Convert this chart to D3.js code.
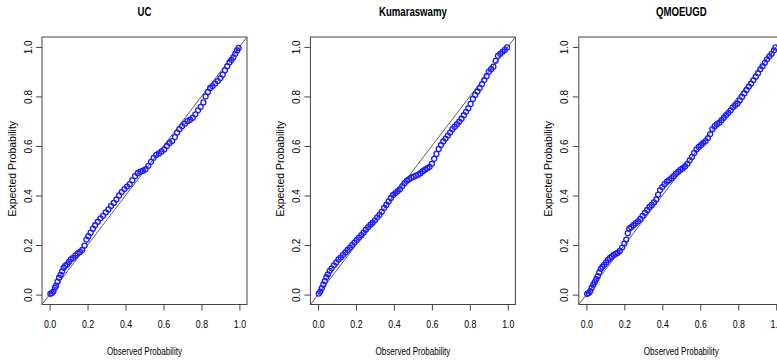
<!DOCTYPE html>
<html>
<head>
<meta charset="utf-8">
<script src="https://cdn.jsdelivr.net/npm/d3@7"></script>
<style>
  body { margin: 0; background: #fff; }
  svg { display: block; }
  text { font-family: "Liberation Sans", Arial, sans-serif; fill: #000; }
</style>
</head>
<body>
<svg id="chart" width="777" height="360"></svg>
<script>
// chart values
var titles = ["UC", "Kumaraswamy", "QMOEUGD"];
var ticks = [0, 0.2, 0.4, 0.6, 0.8, 1.0];
var tickLabels = ["0.0", "0.2", "0.4", "0.6", "0.8", "1.0"];

var ucObs = [0.004,0.012,0.02,0.028,0.034,0.042,0.05,0.058,0.066,0.074,0.082,0.092,0.102,0.112,0.124,0.136,0.148,0.16,0.172,0.184,0.194,0.204,0.216,0.228,0.24,0.254,0.268,0.282,0.296,0.31,0.324,0.338,0.352,0.366,0.38,0.394,0.408,0.422,0.436,0.45,0.464,0.478,0.492,0.506,0.52,0.534,0.548,0.562,0.576,0.59,0.604,0.618,0.632,0.646,0.66,0.672,0.684,0.698,0.712,0.726,0.74,0.754,0.768,0.782,0.796,0.81,0.822,0.834,0.846,0.858,0.872,0.886,0.9,0.912,0.924,0.936,0.948,0.958,0.968,0.978,0.988,0.996];
var ucExp = [0.003,0.006,0.012,0.028,0.036,0.052,0.068,0.08,0.094,0.108,0.116,0.122,0.132,0.142,0.148,0.158,0.166,0.172,0.18,0.198,0.222,0.236,0.25,0.266,0.28,0.294,0.308,0.318,0.332,0.344,0.358,0.37,0.384,0.4,0.414,0.426,0.436,0.446,0.462,0.478,0.49,0.496,0.5,0.506,0.52,0.536,0.552,0.564,0.57,0.578,0.586,0.6,0.612,0.62,0.636,0.654,0.668,0.68,0.69,0.7,0.706,0.714,0.728,0.744,0.758,0.776,0.8,0.818,0.834,0.842,0.852,0.862,0.874,0.888,0.906,0.922,0.938,0.948,0.958,0.972,0.986,0.996];

var kumObs = [0.004,0.012,0.02,0.028,0.036,0.044,0.052,0.062,0.072,0.084,0.096,0.108,0.12,0.132,0.144,0.156,0.168,0.18,0.192,0.204,0.216,0.228,0.24,0.252,0.264,0.276,0.288,0.3,0.312,0.324,0.336,0.348,0.36,0.372,0.384,0.396,0.408,0.42,0.432,0.444,0.456,0.468,0.48,0.492,0.504,0.516,0.528,0.54,0.552,0.564,0.576,0.588,0.6,0.612,0.624,0.636,0.648,0.66,0.672,0.684,0.696,0.708,0.72,0.732,0.744,0.756,0.768,0.78,0.792,0.804,0.816,0.828,0.84,0.852,0.864,0.876,0.888,0.9,0.912,0.924,0.936,0.948,0.96,0.972,0.984,0.996];
var kumExp = [0.004,0.012,0.026,0.04,0.054,0.07,0.082,0.096,0.106,0.118,0.13,0.142,0.15,0.16,0.17,0.18,0.19,0.2,0.21,0.22,0.23,0.24,0.25,0.262,0.272,0.282,0.29,0.3,0.312,0.322,0.334,0.35,0.362,0.376,0.39,0.402,0.41,0.418,0.426,0.438,0.45,0.46,0.466,0.472,0.476,0.48,0.484,0.49,0.498,0.504,0.51,0.516,0.528,0.548,0.568,0.588,0.604,0.618,0.63,0.642,0.654,0.668,0.678,0.688,0.698,0.71,0.724,0.738,0.752,0.77,0.79,0.806,0.82,0.834,0.85,0.866,0.882,0.9,0.91,0.92,0.944,0.964,0.972,0.98,0.988,0.998];

var qmoObs = [0.004,0.012,0.02,0.028,0.036,0.044,0.052,0.06,0.068,0.076,0.084,0.094,0.104,0.114,0.124,0.134,0.144,0.154,0.164,0.176,0.188,0.2,0.21,0.218,0.226,0.236,0.248,0.26,0.272,0.284,0.296,0.308,0.32,0.332,0.344,0.356,0.368,0.378,0.388,0.4,0.412,0.424,0.436,0.448,0.46,0.472,0.484,0.496,0.508,0.52,0.532,0.544,0.556,0.568,0.58,0.592,0.604,0.616,0.628,0.64,0.652,0.664,0.676,0.688,0.7,0.712,0.724,0.736,0.748,0.76,0.772,0.784,0.796,0.808,0.82,0.832,0.844,0.856,0.868,0.88,0.892,0.904,0.916,0.928,0.94,0.952,0.964,0.976,0.988,0.996];
var qmoExp = [0.003,0.006,0.014,0.028,0.04,0.05,0.062,0.074,0.09,0.104,0.112,0.12,0.13,0.14,0.148,0.154,0.16,0.164,0.168,0.176,0.19,0.206,0.222,0.248,0.266,0.272,0.28,0.288,0.296,0.306,0.318,0.33,0.342,0.354,0.362,0.372,0.384,0.404,0.422,0.434,0.446,0.456,0.462,0.47,0.478,0.488,0.496,0.504,0.51,0.518,0.528,0.542,0.556,0.572,0.586,0.596,0.604,0.612,0.62,0.632,0.648,0.668,0.68,0.688,0.694,0.704,0.714,0.724,0.734,0.744,0.756,0.764,0.772,0.784,0.798,0.812,0.826,0.84,0.852,0.866,0.88,0.894,0.91,0.922,0.936,0.95,0.962,0.972,0.986,0.998];

var panels = [
  { title: titles[0], obs: ucObs, exp: ucExp },
  { title: titles[1], obs: kumObs, exp: kumExp },
  { title: titles[2], obs: qmoObs, exp: qmoExp }
];

// layout of one panel (R style: axes pad the data range by 4%)
var panelStep = 268.4;
var plotLeft = 42, plotRight = 247, plotTop = 37, plotBottom = 304.5;
var narrow = 0.8; // the x-side texts use a condensed face in the original

var svg = d3.select("#chart");

panels.forEach(function(p, i) {
  var g = svg.append("g")
    .attr("transform", "translate(" + (i * panelStep) + ",0)");

  var x = d3.scaleLinear()
    .domain([-0.04, 1.04])
    .range([plotLeft, plotRight]);
  var y = d3.scaleLinear()
    .domain([-0.04, 1.04])
    .range([plotBottom, plotTop]);

  var clipId = "clip" + i;
  g.append("clipPath").attr("id", clipId)
    .append("rect")
    .attr("x", plotLeft).attr("y", plotTop)
    .attr("width", plotRight - plotLeft).attr("height", plotBottom - plotTop);

  // reference diagonal
  g.append("line")
    .attr("clip-path", "url(#" + clipId + ")")
    .attr("x1", x(-0.04)).attr("y1", y(-0.04))
    .attr("x2", x(1.04)).attr("y2", y(1.04))
    .attr("stroke", "#333")
    .attr("stroke-width", 0.8);

  // the points
  g.append("g")
    .selectAll("circle")
    .data(p.obs)
    .enter().append("circle")
    .attr("cx", function(d) { return x(d); })
    .attr("cy", function(d, k) { return y(p.exp[k]); })
    .attr("r", 2.5)
    .attr("fill", "none")
    .attr("stroke", "#1a1aff")
    .attr("stroke-width", 1.3);

  // box
  g.append("rect")
    .attr("x", plotLeft).attr("y", plotTop)
    .attr("width", plotRight - plotLeft).attr("height", plotBottom - plotTop)
    .attr("fill", "none")
    .attr("stroke", "#444")
    .attr("stroke-width", 1);

  // x axis
  var xAxis = d3.axisBottom(x)
    .tickValues(ticks)
    .tickFormat(function(d, k) { return tickLabels[k]; })
    .tickSize(6)
    .tickPadding(10);
  var gx = g.append("g")
    .attr("transform", "translate(0," + plotBottom + ")")
    .call(xAxis);
  gx.select(".domain").remove();
  gx.selectAll("line").attr("stroke", "#444");
  gx.selectAll("text")
    .style("font-size", "11px")
    .attr("fill", "#000")
    .attr("transform", "scale(" + narrow + ",1)");

  // y axis, labels turned like R's las = 0
  var yAxis = d3.axisLeft(y)
    .tickValues(ticks)
    .tickFormat(function(d, k) { return tickLabels[k]; })
    .tickSize(6);
  var gy = g.append("g")
    .attr("transform", "translate(" + plotLeft + ",0)")
    .call(yAxis);
  gy.select(".domain").remove();
  gy.selectAll("line").attr("stroke", "#444");
  gy.selectAll("text")
    .style("font-size", "10px")
    .attr("fill", "#000")
    .attr("x", 0).attr("dy", 0)
    .attr("text-anchor", "middle")
    .attr("transform", "translate(-14,0) rotate(-90)")
    .attr("dominant-baseline", "central");

  // titles
  g.append("text")
    .attr("transform", "translate(" + ((plotLeft + plotRight) / 2) + ",15.5) scale(0.77,1)")
    .attr("text-anchor", "middle")
    .style("font-size", "12.5px")
    .style("font-weight", "bold")
    .text(p.title);

  g.append("text")
    .attr("transform", "translate(" + ((plotLeft + plotRight) / 2) + ",355) scale(0.77,1)")
    .attr("text-anchor", "middle")
    .style("font-size", "10.5px")
    .text("Observed Probability");

  g.append("text")
    .attr("transform", "translate(15.5," + ((plotTop + plotBottom) / 2 - 2) + ") rotate(-90)")
    .attr("text-anchor", "middle")
    .style("font-size", "10.5px")
    .text("Expected Probability");
});
</script>
</body>
</html>
